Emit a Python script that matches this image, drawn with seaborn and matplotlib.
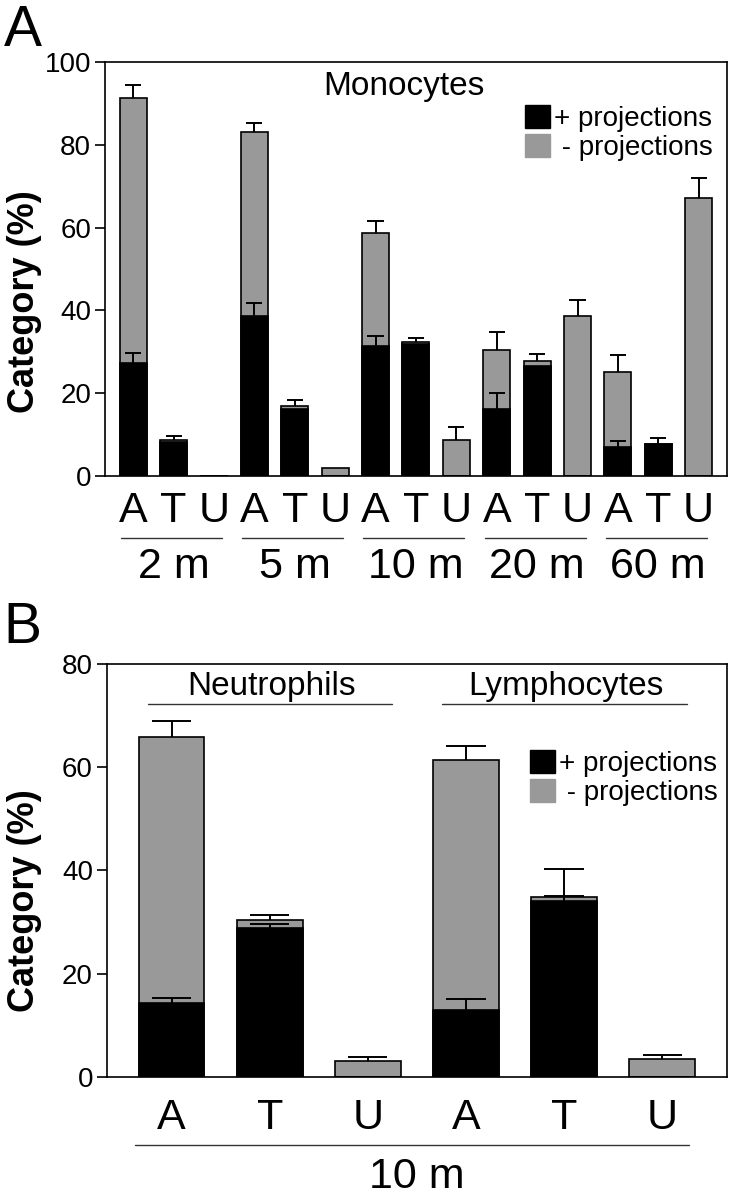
import numpy as np
import pandas as pd
import matplotlib.pyplot as plt
import seaborn as sns
from matplotlib.patches import Patch

# Panel A: monocytes, 5 time points x (A, T, U)
times = ['2 m', '5 m', '10 m', '20 m', '60 m']
cats = ['A', 'T', 'U']
mono_plus = [27.3, 8.3, 0, 38.6, 16.2, 0, 31.5, 31.9, 0, 16.1, 26.5, 0, 7.1, 7.8, 0]
mono_minus = [64.0, 0.3, 0, 44.5, 0.6, 1.9, 27.2, 0.5, 8.7, 14.3, 1.2, 38.7, 17.9, 0, 67.2]
mono_plus_err = [2.4, 0, 0, 3.2, 0, 0, 2.2, 0, 0, 3.9, 0, 0, 1.4, 1.3, 0]
mono_total_err = [3.2, 1.0, 0, 2.1, 1.5, 0, 3.0, 0.9, 3.1, 4.5, 1.7, 3.9, 4.3, 0, 4.8]

# Panel B: neutrophils and lymphocytes at 10 m
cells = ['Neutrophils', 'Lymphocytes']
b_plus = [14.3, 28.8, 0, 12.9, 34.0, 0]
b_minus = [51.6, 1.6, 3.0, 48.5, 0.8, 3.5]
b_plus_err = [0.9, 0.8, 0, 2.1, 1.1, 0]
b_total_err = [3.0, 1.0, 0.9, 2.7, 5.5, 0.8]

GRAY = '#999999'
NARROW = ['Liberation Sans Narrow', 'Liberation Sans', 'DejaVu Sans']

sns.set_style('ticks')
plt.rcParams['font.family'] = ['Liberation Sans', 'DejaVu Sans']
plt.rcParams.update({'axes.edgecolor': 'black', 'axes.linewidth': 1.2,
                     'text.color': 'black', 'axes.labelcolor': 'black',
                     'xtick.color': 'black', 'ytick.color': 'black'})


def stacked(ax, plus, minus, plus_err, total_err, width):
    plus = np.array(plus, float)
    total = plus + np.array(minus, float)
    df = pd.DataFrame({'pos': np.arange(len(plus)), 'plus': plus, 'total': total})
    sns.barplot(data=df, x='pos', y='total', color=GRAY, saturation=1, width=width,
                edgecolor='black', linewidth=1.2, errorbar=None, ax=ax)
    sns.barplot(data=df, x='pos', y='plus', color='black', saturation=1, width=width,
                edgecolor='black', linewidth=1.2, errorbar=None, ax=ax)
    # one-sided error bars (upwards)
    for base, err in [(total, total_err), (plus, plus_err)]:
        for i, (b, e) in enumerate(zip(base, err)):
            if e > 0:
                ax.vlines(i, b, b + e, color='black', lw=1.4, zorder=5)
                ax.hlines(b + e, i - 0.2, i + 0.2, color='black', lw=1.4, zorder=5)
    ax.set_xlabel('')
    ax.set_ylabel('Category (%)', fontsize=26, fontweight='bold')
    ax.tick_params(axis='y', labelsize=20, length=7, width=1.2, pad=3)
    for s in ax.spines.values():
        s.set_visible(True)


fig = plt.figure(figsize=(7.32, 11.99), dpi=100)

# ---- Panel A
ax1 = fig.add_axes([0.1434, 0.603, 0.8497, 0.3453])
stacked(ax1, mono_plus, mono_minus, mono_plus_err, mono_total_err, 0.67)
ax1.set_xlim(-0.7, 14.7)
ax1.set_ylim(0, 100)
ax1.set_yticks(range(0, 101, 20))
ax1.set_xticks(range(15))
ax1.set_xticklabels(cats * len(times), fontsize=31, family=NARROW)
ax1.tick_params(axis='x', length=0, pad=11)
ax1.yaxis.set_label_coords(-0.101, 0.42)
trans = ax1.get_xaxis_transform()
for g, t in enumerate(times):
    ax1.plot([3 * g - 0.3, 3 * g + 2.2], [-0.15, -0.15], color='#333333', lw=1,
             transform=trans, clip_on=False)
    ax1.text(3 * g + 1, -0.22, t, fontsize=31, ha='center', va='center',
             family=NARROW, transform=trans)
ax1.text(6.69, 92.0, 'Monocytes', fontsize=24, ha='center', va='baseline')
handles = [Patch(color='black'), Patch(color=GRAY)]
ax1.legend(handles, ['+ projections', ' - projections'], loc='upper right',
           bbox_to_anchor=(0.977, 0.896), frameon=False, fontsize=20,
           handlelength=0.9, handleheight=0.9, handletextpad=0.15,
           labelspacing=0.08, borderpad=0, borderaxespad=0)

# ---- Panel B
ax2 = fig.add_axes([0.146, 0.1018, 0.847, 0.3445])
stacked(ax2, b_plus, b_minus, b_plus_err, b_total_err, 0.67)
ax2.set_xlim(-0.66, 5.66)
ax2.set_ylim(0, 80)
ax2.set_yticks(range(0, 81, 20))
ax2.set_xticks(range(6))
ax2.set_xticklabels(cats * len(cells), fontsize=31, family=NARROW)
ax2.tick_params(axis='x', length=0, pad=15)
ax2.yaxis.set_label_coords(-0.105, 0.428)
trans2 = ax2.get_xaxis_transform()
ax2.plot([-0.37, 5.27], [-0.165, -0.165], color='#333333', lw=1,
         transform=trans2, clip_on=False)
ax2.text(2.5, -0.242, '10 m', fontsize=31, ha='center', va='center',
         family=NARROW, transform=trans2)
for k, c in enumerate(cells):
    ax2.plot([3 * k - 0.24, 3 * k + 2.25], [72.2, 72.2], color='#333333', lw=1)
    ax2.text(3 * k + 1.02, 73.9, c, fontsize=24, ha='center', va='baseline')
ax2.legend(handles, ['+ projections', ' - projections'], loc='upper right',
           bbox_to_anchor=(0.985, 0.792), frameon=False, fontsize=20,
           handlelength=0.9, handleheight=0.9, handletextpad=0.15,
           labelspacing=0.08, borderpad=0, borderaxespad=0)

fig.text(0.005, 0.9616, 'A', fontsize=41, va='baseline')
fig.text(0.005, 0.4637, 'B', fontsize=41, va='baseline')

fig.savefig('out.png', dpi=100)
